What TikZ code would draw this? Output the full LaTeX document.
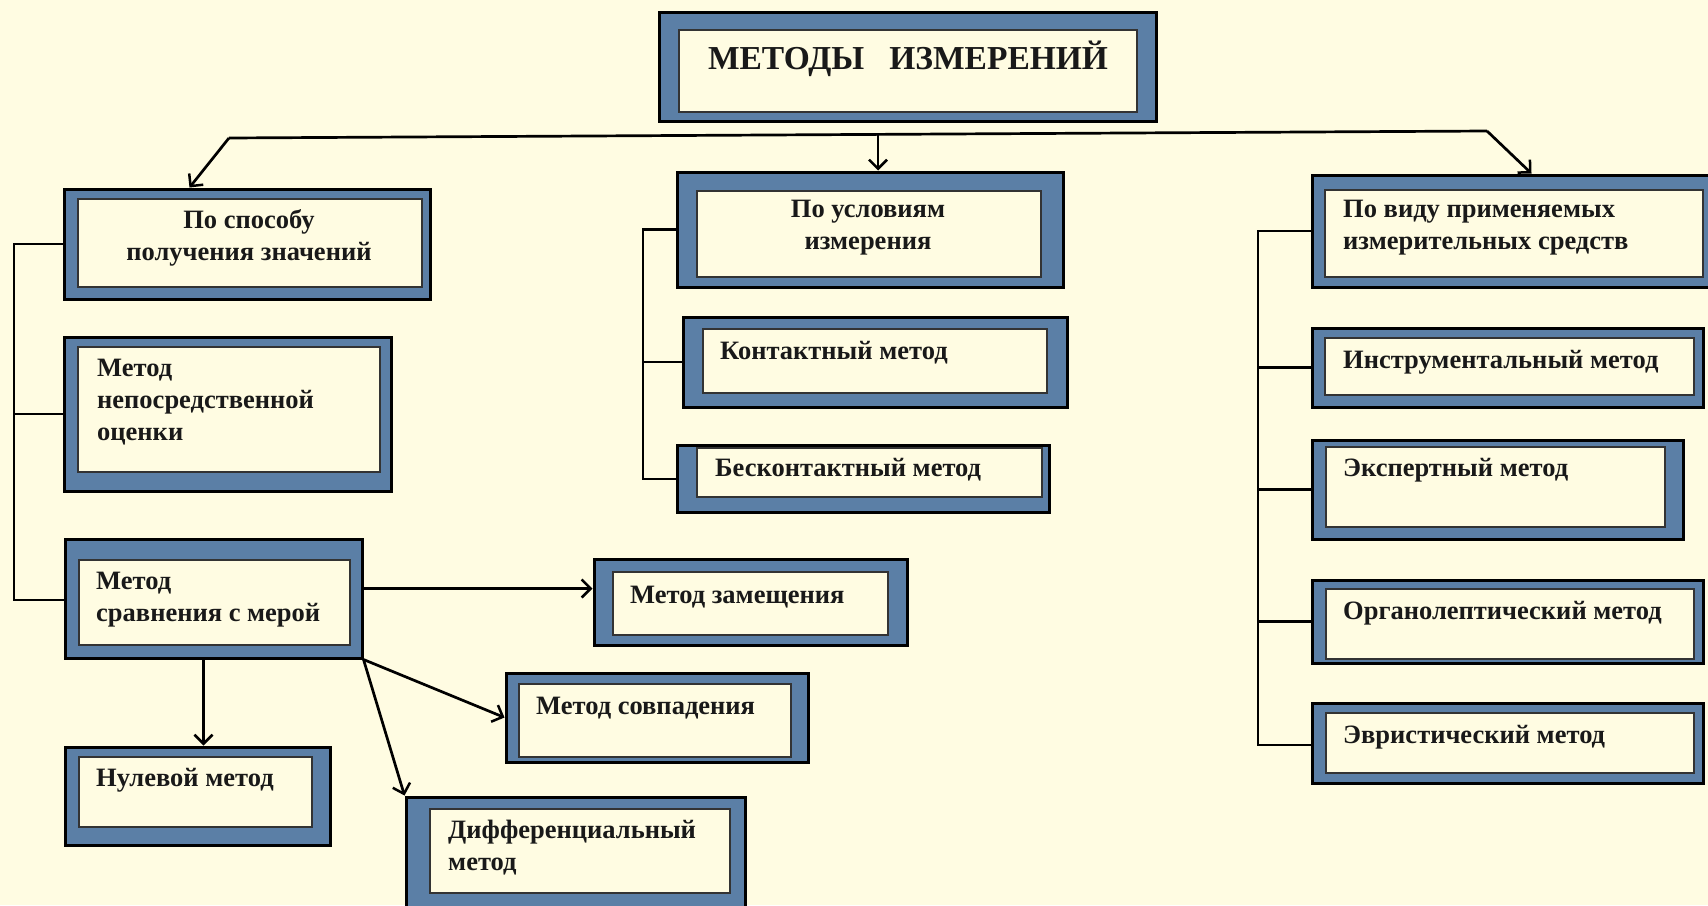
\documentclass[tikz,border=0pt]{standalone}
\usepackage{fontspec}
\setmainfont{Liberation Serif}
\usetikzlibrary{arrows.meta,fit}
\definecolor{bg}{RGB}{255,252,226}
\definecolor{frameblue}{RGB}{91,127,166}
\tikzset{
 outerbox/.style={draw=black, line width=3pt, fill=frameblue, inner sep=0pt},
 innerbox/.style={draw=black!80, line width=1.6pt, fill=bg, inner sep=0pt},
 txt/.style={font=\bfseries\fontsize{26.5}{32}\selectfont, inner sep=0pt, text=black!90},
 conn/.style={line width=2.7pt, draw=black},
 arr/.style={conn, -{Straight Barb[length=9pt,width=18pt,line width=2.5pt]}},
}
\newcommand\twobox[9]{%
 \node[outerbox, fit={(#2,#3) (#4,#5)}] (#1) {};
 \node[innerbox, fit={(#6,#7) (#8,#9)}] (#1in) {};
}
\begin{document}
\begin{tikzpicture}[x=1pt,y=-1pt]
\useasboundingbox (0,0) rectangle (1708,905);
\fill[bg] (0,0) rectangle (1708,905);
\clip (0,0) rectangle (1708,905);
% boxes
\twobox{top}{659}{12}{1156}{121}{679}{30}{1137}{112}
\twobox{p1}{64}{189}{430}{299}{78}{199}{422}{287}
\twobox{p2}{64}{337}{391}{491}{78}{347}{380}{472}
\twobox{p3}{65}{539}{362}{658}{79}{560}{350}{645}
\twobox{nul}{65}{747}{330}{845}{79}{757}{312}{827}
\twobox{zam}{594}{559}{907}{645}{613}{572}{888}{635}
\twobox{sov}{506}{673}{808}{762}{519}{684}{791}{757}
\twobox{dif}{406}{797}{745}{915}{430}{809}{730}{893}
\twobox{u1}{677}{172}{1063}{287}{697}{191}{1041}{277}
\twobox{u2}{683}{317}{1067}{407}{703}{329}{1047}{393}
\twobox{u3}{677}{445}{1049}{512}{697}{448}{1042}{497}
\twobox{v1}{1312}{175}{1715}{287}{1325}{190}{1703}{277}
\twobox{v2}{1312}{328}{1703}{407}{1325}{338}{1694}{395}
\twobox{v3}{1312}{440}{1683}{539}{1326}{447}{1665}{527}
\twobox{v4}{1312}{580}{1703}{663}{1326}{589}{1694}{659}
\twobox{v5}{1312}{703}{1703}{783}{1326}{713}{1694}{773}
% texts
\node[txt, font=\bfseries\fontsize{33.5}{38}\selectfont] (ttop) at (908,59) {МЕТОДЫ\ \ \ ИЗМЕРЕНИЙ};
\node[txt, align=center] (tp1) at (249,238) {По способу\\получения значений};
\node[txt, align=left, anchor=west] (tp2) at (97,402) {Метод\\непосредственной\\оценки};
\node[txt, align=left, anchor=west] (tp3) at (96,600) {Метод\\сравнения с мерой};
\node[txt, anchor=west] (tnul) at (96,780) {Нулевой метод};
\node[txt, anchor=west] (tzam) at (630,597) {Метод замещения};
\node[txt, anchor=west] (tsov) at (536,708) {Метод совпадения};
\node[txt, align=left, anchor=west] (tdif) at (448,848) {Дифференциальный\\метод};
\node[txt, align=center] (tu1) at (868,228) {По условиям\\измерения};
\node[txt, anchor=west] (tu2) at (720,353) {Контактный метод};
\node[txt, anchor=west] (tu3) at (715,470) {Бесконтактный метод};
\node[txt, align=left, anchor=west] (tv1) at (1343,228) {По виду применяемых\\измерительных средств};
\node[txt, anchor=west] (tv2) at (1343,362) {Инструментальный метод};
\node[txt, anchor=west] (tv3) at (1343,470) {Экспертный метод};
\node[txt, anchor=west] (tv4) at (1343,613) {Органолептический метод};
\node[txt, anchor=west] (tv5) at (1343,737) {Эвристический метод};
% top distribution
\coordinate (hl) at (229,138);
\coordinate (hm) at (878,133);
\coordinate (hr) at (1487,131);
\draw[conn] (hl) -- (hr);
\draw[arr] (hl) -- ([xshift=127pt]p1.north west);
\draw[arr] (hm) -- (hm |- u1.north);
\draw[arr] (hr) -- ([xshift=221pt]v1.north west);
% left trunk
\coordinate (lb) at (14,600);
\draw[conn] (p1.west) -| (lb) -- (lb -| p3.west);
\draw[conn] (p2.west) -- (p2.west -| lb);
% middle trunk
\coordinate (mb) at (643,479);
\draw[conn] (u1.west) -| (mb) -- (mb -| u3.west);
\draw[conn] (u2.west) -- (u2.west -| mb);
% right trunk
\coordinate (rb) at (1258,745);
\draw[conn] (v1.west) -| (rb) -- (rb -| v5.west);
\draw[conn] (v2.west) -- (v2.west -| rb);
\draw[conn] (v3.west) -- (v3.west -| rb);
\draw[conn] (v4.west) -- (v4.west -| rb);
% from comparison method
\coordinate (z0) at ([yshift=10pt]p3.east);
\draw[arr] (z0) -- (z0 -| zam.west);
\draw[arr] (p3.south east) -- (sov.west);
\draw[arr] (p3.south east) -- (dif.north west);
\coordinate (n0) at ([xshift=-10pt]p3.south);
\draw[arr] (n0) -- (n0 |- nul.north);
\end{tikzpicture}
\end{document}
